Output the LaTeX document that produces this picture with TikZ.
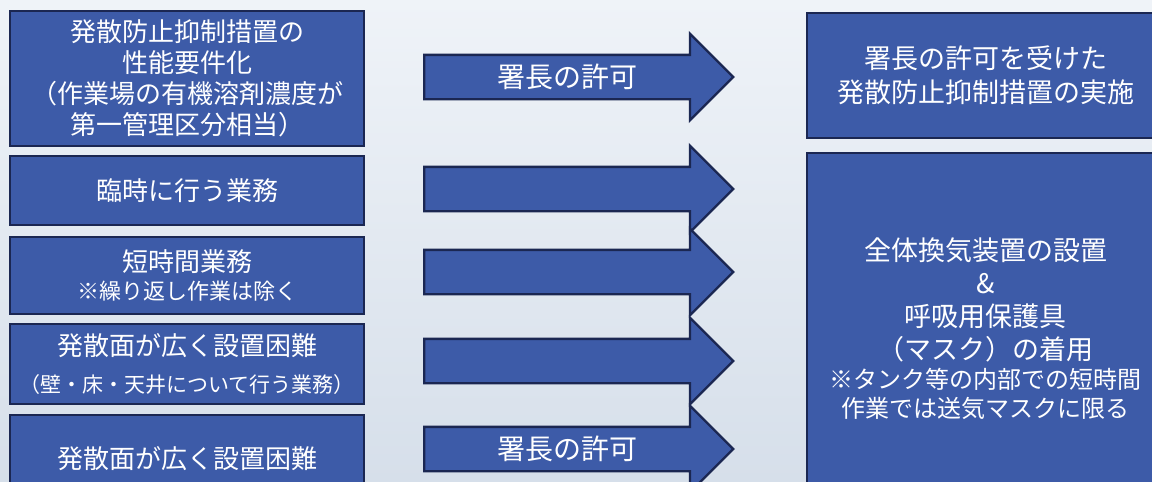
\documentclass[tikz,border=0pt]{standalone}
\usepackage{fontspec}
\setmainfont{Noto Sans CJK JP}
\usetikzlibrary{shapes.arrows}

\definecolor{boxblue}{HTML}{3D5BA8}
\definecolor{edgeblue}{HTML}{1B2752}
\definecolor{bgtop}{HTML}{EFF3F8}
\definecolor{bgbot}{HTML}{D6DFEA}

\begin{document}
\begin{tikzpicture}[x=0.5pt,y=-0.5pt,
    casebox/.style={draw=edgeblue,line width=1.2pt,fill=boxblue,text=white,
        inner sep=0pt,align=center,anchor=north west,
        font=\fontsize{13}{15.5}\selectfont},
    permit/.style={single arrow,draw=edgeblue,line width=1.2pt,fill=boxblue,text=white,
        single arrow head extend=10.5pt,single arrow tip angle=90,
        minimum height=154.5pt,inner xsep=0pt,inner ysep=0pt,
        text height=15.5pt,text depth=5.5pt,anchor=tail,
        font=\fontsize{14}{16}\selectfont}]
    \useasboundingbox (0,0) rectangle (1152,482);
    \fill[top color=bgtop,bottom color=bgbot] (0,0) rectangle (1152,482);
    \clip (0,0) rectangle (1152,482);

    % Cases on the left
    \node[casebox,minimum width=177pt,minimum height=67.5pt] (perf) at (9,10)
        {発散防止抑制措置の\\性能要件化\\（作業場の有機溶剤濃度が\\第一管理区分相当）};
    \node[casebox,minimum width=177pt,minimum height=34.5pt] (rinji) at (9,155)
        {臨時に行う業務};
    \node[casebox,minimum width=177pt,minimum height=38.5pt] (short) at (9,236)
        {短時間業務\\[-1.5pt]{\fontsize{11}{14}\selectfont ※繰り返し作業は除く}};
    \node[casebox,minimum width=177pt,minimum height=40pt] (wall) at (9,323)
        {発散面が広く設置困難\\[3pt]{\fontsize{10.5}{14}\selectfont （壁・床・天井について行う業務）}};
    \node[casebox,minimum width=177pt,minimum height=43pt] (wide) at (9,414)
        {発散面が広く設置困難};

    % Arrows
    \node[permit] (perfarr) at (423,77) {署長の許可};
    \node[permit] (rinjiarr) at (423,189) {};
    \node[permit] (shortarr) at (423,272) {};
    \node[permit] (wallarr) at (423,361) {};
    \node[permit] (widearr) at (423,449) {署長の許可};

    % Measures on the right
    \node[casebox,minimum width=178.5pt,minimum height=62.5pt,
        font=\fontsize{13.5}{17}\selectfont] (jisshi) at (806,12)
        {署長の許可を受けた\\発散防止抑制措置の実施};
    \node[casebox,minimum width=178.5pt,minimum height=175pt,
        font=\fontsize{13.5}{16.5}\selectfont] (kanki) at (806,152)
        {全体換気装置の設置\\\&\\呼吸用保護具\\（マスク）の着用\\[-2pt]
        {\fontsize{12}{14.5}\selectfont ※タンク等の内部での短時間}\\[-2pt]
        {\fontsize{12}{14.5}\selectfont 作業では送気マスクに限る}};
\end{tikzpicture}
\end{document}
